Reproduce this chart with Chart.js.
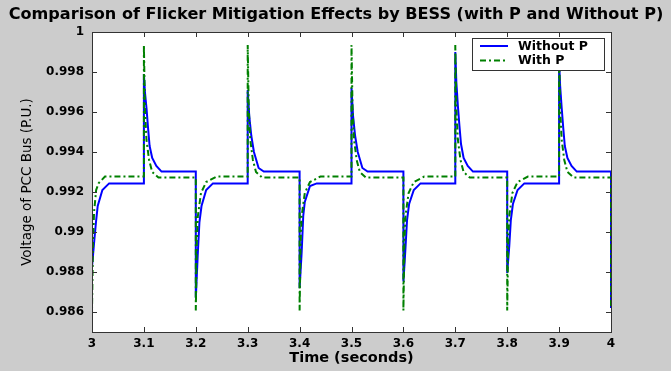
<!DOCTYPE html>
<html>
<head>
<meta charset="utf-8">
<script src="https://cdn.jsdelivr.net/npm/chart.js@4.4.0/dist/chart.umd.min.js"></script>
<style>
  html, body { margin: 0; padding: 0; background: #cccccc; }
  #wrap { width: 671px; height: 371px; }
</style>
</head>
<body>
<div id="wrap"><canvas id="chart"></canvas></div>
<script>
// values
const blueTime = [
  3.0, 3.0, 3.0045, 3.0077, 3.011, 3.020, 3.033,
  3.1, 3.1, 3.102, 3.105, 3.108, 3.111, 3.116, 3.124, 3.134,
  3.2, 3.2, 3.204, 3.207, 3.211, 3.220, 3.233,
  3.3, 3.3, 3.303, 3.307, 3.312, 3.321, 3.331,
  3.4, 3.4, 3.404, 3.407, 3.410, 3.420, 3.433,
  3.5, 3.5, 3.503, 3.507, 3.512, 3.521, 3.531,
  3.6, 3.6, 3.604, 3.607, 3.611, 3.620, 3.633,
  3.7, 3.7, 3.702, 3.705, 3.708, 3.711, 3.716, 3.724, 3.734,
  3.8, 3.8, 3.804, 3.807, 3.811, 3.820, 3.833,
  3.9, 3.9, 3.902, 3.905, 3.908, 3.911, 3.916, 3.924, 3.934,
  4.0, 4.0
];
const blueVolt = [
  0.9930, 0.98825, 0.9896, 0.9905, 0.9913, 0.9921, 0.99243,
  0.99243, 0.9979, 0.9970, 0.9962, 0.9952, 0.9943, 0.9937, 0.9933, 0.99302,
  0.99302, 0.9867, 0.9890, 0.9905, 0.9913, 0.9921, 0.99243,
  0.99243, 0.9971, 0.9958, 0.9948, 0.9940, 0.9932, 0.99302,
  0.99302, 0.9872, 0.9890, 0.9908, 0.9915, 0.9923, 0.99243,
  0.99243, 0.9972, 0.9958, 0.9948, 0.9940, 0.9932, 0.99302,
  0.99302, 0.98752, 0.9892, 0.9906, 0.9914, 0.9921, 0.99243,
  0.99243, 0.9990, 0.9975, 0.9963, 0.9953, 0.9944, 0.9937, 0.9933, 0.99302,
  0.99302, 0.98795, 0.9893, 0.9906, 0.9914, 0.9921, 0.99243,
  0.99243, 0.9985, 0.9973, 0.9962, 0.9952, 0.9943, 0.9937, 0.9933, 0.99302,
  0.99302, 0.9862
];
const greenTime = [
  3.0, 3.0, 3.002, 3.004, 3.008, 3.013, 3.025,
  3.1, 3.1, 3.102, 3.105, 3.110, 3.116, 3.128,
  3.2, 3.2, 3.202, 3.204, 3.210, 3.220, 3.240,
  3.3, 3.3, 3.302, 3.305, 3.310, 3.316, 3.328,
  3.4, 3.4, 3.402, 3.404, 3.410, 3.420, 3.440,
  3.5, 3.5, 3.502, 3.505, 3.510, 3.516, 3.528,
  3.6, 3.6, 3.602, 3.604, 3.610, 3.620, 3.640,
  3.7, 3.7, 3.702, 3.705, 3.710, 3.716, 3.728,
  3.8, 3.8, 3.802, 3.804, 3.810, 3.820, 3.840,
  3.9, 3.9, 3.902, 3.905, 3.910, 3.916, 3.928,
  4.0, 4.0
];
const greenVolt = [
  0.9921, 0.9861, 0.9895, 0.9910, 0.9921, 0.99245, 0.99277,
  0.99277, 0.99935, 0.9962, 0.9946, 0.9936, 0.9930, 0.99272,
  0.99272, 0.98607, 0.9895, 0.9908, 0.99195, 0.9925, 0.99277,
  0.99277, 0.99935, 0.9962, 0.9946, 0.9936, 0.9930, 0.99272,
  0.99272, 0.98607, 0.9895, 0.9908, 0.99195, 0.9925, 0.99277,
  0.99277, 0.99935, 0.9962, 0.9946, 0.9936, 0.9930, 0.99272,
  0.99272, 0.98607, 0.9895, 0.9908, 0.99195, 0.9925, 0.99277,
  0.99277, 0.99935, 0.9962, 0.9946, 0.9936, 0.9930, 0.99272,
  0.99272, 0.98607, 0.9895, 0.9908, 0.99195, 0.9925, 0.99277,
  0.99277, 0.9993, 0.9962, 0.9946, 0.9936, 0.9930, 0.99272,
  0.99272, 0.9862
];
const xTicks = [3, 3.1, 3.2, 3.3, 3.4, 3.5, 3.6, 3.7, 3.8, 3.9, 4];
const xTickLabels = ["3", "3.1", "3.2", "3.3", "3.4", "3.5", "3.6", "3.7", "3.8", "3.9", "4"];
const yTicks = [0.986, 0.988, 0.99, 0.992, 0.994, 0.996, 0.998, 1];
const yTickLabels = ["0.986", "0.988", "0.99", "0.992", "0.994", "0.996", "0.998", "1"];
const seriesNames = ["Without P", "With P"];
const chartTitle = "Comparison of Flicker Mitigation Effects by BESS (with P and Without P)";

const toPoints = (ts, vs) => ts.map((t, i) => ({ x: t, y: vs[i] }));

// grey page, white plot area, box with inward ticks, title, legend box
const framePlugin = {
  id: "frame",
  beforeDraw(chart) {
    const { ctx, chartArea: a } = chart;
    ctx.save();
    ctx.fillStyle = "#cccccc";
    ctx.fillRect(0, 0, chart.width, chart.height);
    ctx.fillStyle = "#ffffff";
    ctx.fillRect(a.left, a.top, a.right - a.left, a.bottom - a.top);
    ctx.restore();
  },
  afterDraw(chart) {
    const { ctx, chartArea: a } = chart;
    const xs = chart.scales.x, ys = chart.scales.y;
    ctx.save();
    ctx.strokeStyle = "#333333";
    ctx.lineWidth = 1;
    ctx.strokeRect(a.left + 0.5, a.top + 0.5, a.right - a.left, a.bottom - a.top);
    ctx.beginPath();
    xs.ticks.forEach(t => {
      const px = Math.round(xs.getPixelForValue(t.value)) + 0.5;
      ctx.moveTo(px, a.bottom); ctx.lineTo(px, a.bottom - 5);
      ctx.moveTo(px, a.top); ctx.lineTo(px, a.top + 5);
    });
    ys.ticks.forEach(t => {
      const py = Math.round(ys.getPixelForValue(t.value)) + 0.5;
      ctx.moveTo(a.left, py); ctx.lineTo(a.left + 5, py);
      ctx.moveTo(a.right, py); ctx.lineTo(a.right - 5, py);
    });
    ctx.stroke();

    // title, centred on the whole picture
    ctx.fillStyle = "#000000";
    ctx.font = "bold 16.1px 'DejaVu Sans'";
    ctx.textAlign = "center";
    ctx.textBaseline = "middle";
    ctx.fillText(chartTitle, 336, 15);

    // legend
    const lx = 472, ly = 38, lw = 132, lh = 32;
    ctx.fillStyle = "#ffffff";
    ctx.fillRect(lx, ly, lw, lh);
    ctx.strokeStyle = "#333333";
    ctx.strokeRect(lx + 0.5, ly + 0.5, lw, lh);
    ctx.font = "bold 12.5px 'DejaVu Sans'";
    ctx.textAlign = "left";
    chart.data.datasets.forEach((ds, i) => {
      const y = ly + 8 + i * 14.5;
      ctx.beginPath();
      ctx.strokeStyle = ds.borderColor;
      ctx.lineWidth = 2;
      ctx.setLineDash(ds.borderDash || []);
      ctx.moveTo(lx + 8, y); ctx.lineTo(lx + 36, y);
      ctx.stroke();
      ctx.setLineDash([]);
      ctx.fillStyle = "#000000";
      ctx.fillText(ds.label, lx + 46, y + 0.5);
    });
    ctx.restore();
  }
};

new Chart(document.getElementById("chart"), {
  type: "line",
  data: {
    datasets: [
      {
        label: seriesNames[0],
        data: toPoints(blueTime, blueVolt),
        borderColor: "#0000ff",
        borderWidth: 2,
        pointRadius: 0,
        tension: 0,
        order: 1
      },
      {
        label: seriesNames[1],
        data: toPoints(greenTime, greenVolt),
        borderColor: "#008000",
        borderWidth: 2,
        borderDash: [6, 3, 2, 3],
        pointRadius: 0,
        tension: 0,
        order: 0
      }
    ]
  },
  options: {
    responsive: true,
    maintainAspectRatio: false,
    animation: false,
    layout: { padding: { left: 0, right: 60, top: 32, bottom: 0 } },
    plugins: {
      legend: { display: false },
      tooltip: { enabled: false },
      title: { display: false }
    },
    scales: {
      x: {
        type: "linear",
        min: 3,
        max: 4,
        afterBuildTicks: s => { s.ticks = xTicks.map(v => ({ value: v })); },
        afterFit: s => { s.height = 39; },
        grid: { display: false, drawTicks: false },
        border: { display: false },
        ticks: {
          color: "#000000",
          padding: 5,
          autoSkip: false,
          maxRotation: 0,
          font: { family: "'DejaVu Sans'", size: 12, weight: "bold" },
          callback: (v, i) => xTickLabels[i]
        },
        title: {
          display: true,
          text: "Time (seconds)",
          color: "#000000",
          font: { family: "'DejaVu Sans'", size: 14.5, weight: "bold" },
          padding: { top: 0, bottom: 4 }
        }
      },
      y: {
        type: "linear",
        min: 0.985,
        max: 1,
        afterBuildTicks: s => { s.ticks = yTicks.map(v => ({ value: v })); },
        afterFit: s => { s.width = 92; },
        grid: { display: false, drawTicks: false },
        border: { display: false },
        ticks: {
          color: "#000000",
          padding: 8,
          autoSkip: false,
          font: { family: "'DejaVu Sans'", size: 12, weight: "bold" },
          callback: (v, i) => yTickLabels[i]
        },
        title: {
          display: true,
          text: "Voltage of PCC Bus (P.U.)",
          color: "#000000",
          font: { family: "'DejaVu Sans'", size: 13.5 },
          padding: { top: 19, bottom: 0 }
        }
      }
    }
  },
  plugins: [framePlugin]
});
</script>
</body>
</html>
